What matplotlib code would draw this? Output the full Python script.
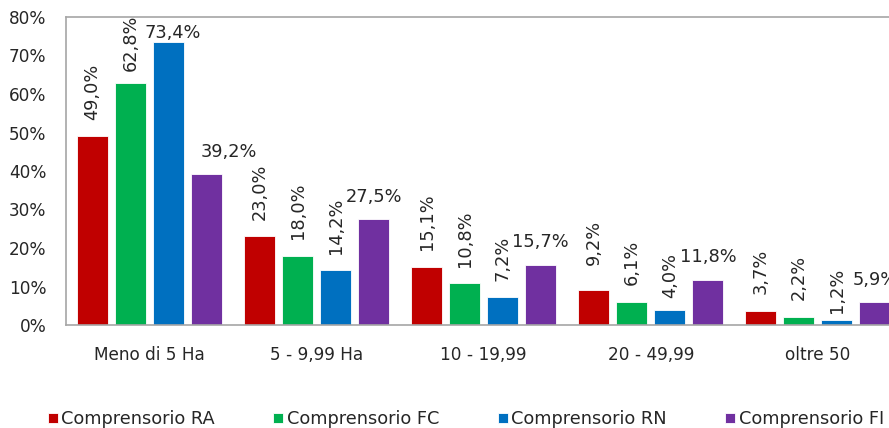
import numpy as np
import matplotlib.pyplot as plt

plt.rcParams['font.family'] = ['DejaVu Sans']

categories = ['Meno di 5 Ha', '5 - 9,99 Ha', '10 - 19,99', '20 - 49,99', 'oltre 50']
series = ['Comprensorio RA', 'Comprensorio FC', 'Comprensorio RN', 'Comprensorio FI']
ra = [49.0, 23.0, 15.1, 9.2, 3.7]
fc = [62.8, 18.0, 10.8, 6.1, 2.2]
rn = [73.4, 14.2, 7.2, 4.0, 1.2]
fi = [39.2, 27.5, 15.7, 11.8, 5.9]
colors = ['#C00000', '#00B050', '#0070C0', '#7030A0']

values = [ra, fc, rn, fi]

# label nudges in points (dx, dy) for the few labels moved by hand
nudge = {(2, 0): (3, -9), (3, 0): (16, 0), (1, 0): (0, -3),
         (0, 3): (0, 6), (2, 3): (0, -3.5), (2, 4): (0, -6.5)}

fig = plt.figure(figsize=(8.89, 4.28), dpi=100)
ax = fig.add_axes([66/889, 103/428, 835.5/889, 308/428])

x = np.arange(len(categories))
pitch = 0.2275
width = 0.186
for i, (vals, name, c) in enumerate(zip(values, series, colors)):
    pos = x + (i - 1.5) * pitch
    ax.bar(pos, vals, width, color=c, edgecolor='white', linewidth=0.6, label=name)
    for j, (p, v) in enumerate(zip(pos, vals)):
        txt = f"{v:.1f}".replace('.', ',') + '%'
        dx, dy = nudge.get((i, j), (0, 0))
        horiz = (i == 3) or (i == 2 and j == 0)
        if horiz:
            ax.annotate(txt, (p, v), xytext=(dx, 9.5 + dy), textcoords='offset points',
                        ha='center', va='bottom', fontsize=12.8, color='#262626',
                        annotation_clip=False)
        else:
            ax.annotate(txt, (p, v), xytext=(dx, 12 + dy), textcoords='offset points',
                        ha='center', va='bottom', rotation=90, fontsize=12.8,
                        color='#262626', annotation_clip=False)

ax.set_xlim(-0.5, len(categories) - 0.5)
ax.set_ylim(0, 80)
ax.set_yticks(range(0, 81, 10))
ax.set_yticklabels([f"{t}%" for t in range(0, 81, 10)])
ax.set_xticks(x)
ax.set_xticklabels(categories)
ax.tick_params(axis='both', length=0, labelsize=12.2, colors='#262626')
ax.tick_params(axis='x', pad=15)
ax.tick_params(axis='y', pad=14)
for s in ax.spines.values():
    s.set_color('#A6A6A6')
    s.set_linewidth(1.2)

fig.legend(loc='lower center', bbox_to_anchor=(0.524, -0.038), ncol=4, frameon=False,
           fontsize=12.8, handlelength=0.55, handleheight=0.55, handletextpad=0.2,
           columnspacing=3.3, labelcolor='#262626')

fig.savefig('out.png', dpi=100)
